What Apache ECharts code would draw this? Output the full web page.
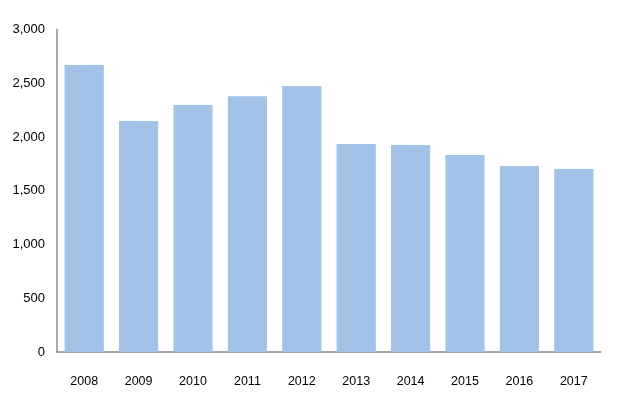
<!DOCTYPE html>
<html>
<head>
<meta charset="utf-8">
<script src="https://cdn.jsdelivr.net/npm/echarts@6/dist/echarts.min.js"></script>
<style>html,body{margin:0;padding:0;background:#fff;}#c{width:620px;height:410px;}</style>
</head>
<body>
<div id="c"></div>
<script>
var categories = ['2008','2009','2010','2011','2012','2013','2014','2015','2016','2017'];
var values = [2670, 2150, 2298, 2380, 2474, 1935, 1926, 1833, 1730, 1702];
var yTicks = { min: 0, max: 3000, interval: 500 };

var chart = echarts.init(document.getElementById('c'), null, { renderer: 'canvas' });
chart.setOption({
  animation: false,
  backgroundColor: '#ffffff',
  grid: { left: 57, right: 19, top: 29.5, bottom: 58, containLabel: false },
  xAxis: {
    type: 'category',
    data: categories,
    axisLine: { show: true, lineStyle: { color: '#8c8c8c', width: 1.5 } },
    axisTick: { show: false },
    axisLabel: { color: '#000', fontFamily: 'Liberation Sans, Arial', fontSize: 12.5, margin: 23 }
  },
  yAxis: {
    type: 'value',
    min: yTicks.min, max: yTicks.max, interval: yTicks.interval,
    splitLine: { show: false },
    axisLine: { show: true, lineStyle: { color: '#8c8c8c', width: 1.5 } },
    axisTick: { show: false },
    axisLabel: {
      color: '#000', fontFamily: 'Liberation Sans, Arial', fontSize: 13, margin: 12,
      formatter: function (v) { return v.toLocaleString('en-US'); }
    }
  },
  series: [{
    type: 'bar',
    data: values,
    barCategoryGap: '28%',
    itemStyle: { color: '#a2c2e8' }
  }]
});
</script>
</body>
</html>
